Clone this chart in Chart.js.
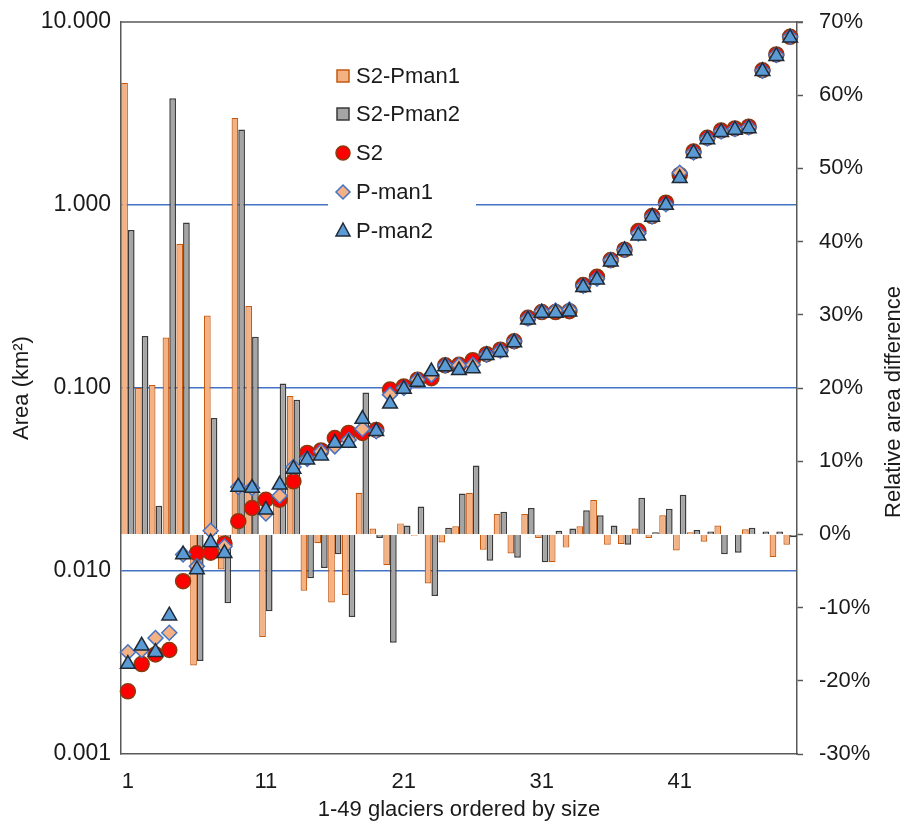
<!DOCTYPE html>
<html>
<head>
<meta charset="utf-8">
<script src="https://cdn.jsdelivr.net/npm/chart.js@4.4.1/dist/chart.umd.min.js"></script>
<style>
  body { margin: 0; background: #fff; }
  #wrap { width: 906px; height: 827px; }
</style>
</head>
<body>
<div id="wrap"><canvas id="lienzo" width="906" height="827"></canvas></div>
<script>
// glaciers 1-49, ordered by size
const glaciers = ['1','2','3','4','5','6','7','8','9','10','11','12','13','14','15','16','17','18','19','20',
    '21','22','23','24','25','26','27','28','29','30','31','32','33','34','35','36','37','38','39','40',
    '41','42','43','44','45','46','47','48','49']
const xTicks = ['1','11','21','31','41']
const areaTicks = [0.001, 0.01, 0.1, 1, 10]

// relative area difference (%)
const s2Pman1 = [61.7, 20.0, 20.4, 26.9, 39.7, -17.9, 29.9, -4.8, 56.9, 31.2,
    -14.0, 5.0, 18.9, -7.7, -1.2, -9.3, -8.3, 5.7, 0.8, -4.2,
    1.5, -0.2, -6.7, -1.1, 1.1, 5.7, -2.1, 2.8, -2.6, 2.8,
    -0.5, -3.8, -1.8, 1.1, 4.7, -1.4, -1.3, 0.8, -0.5, 2.6,
    -2.2, 0.3, -1.0, 1.2, 0.1, 0.7, 0.1, -3.1, -1.4]
const s2Pman2 = [41.6, 27.1, 3.9, 59.6, 42.6, -17.3, 15.9, -9.4, 55.3, 27.0,
    -10.5, 20.6, 18.4, -6.0, -4.6, -2.7, -11.3, 19.4, -0.5, -14.8,
    1.2, 3.8, -8.4, 0.9, 5.6, 9.4, -3.6, 3.1, -3.2, 3.6,
    -3.8, 0.5, 0.8, 3.3, 2.6, 1.2, -1.4, 5.0, 0.3, 3.5,
    5.4, 0.6, 0.4, -2.7, -2.5, 0.9, 0.4, 0.4, -0.4]

// area (km2)
const areaS2 = [0.0022, 0.0031, 0.0035, 0.0037, 0.0088, 0.0125, 0.0126, 0.0141, 0.0187, 0.0221,
    0.0245, 0.0245, 0.0309, 0.0442, 0.0456, 0.0533, 0.0568, 0.0568, 0.059, 0.098,
    0.102, 0.111, 0.113, 0.133, 0.134, 0.142, 0.153, 0.162, 0.180, 0.242,
    0.260, 0.260, 0.263, 0.365, 0.405, 0.50, 0.57, 0.72, 0.87, 1.03,
    1.46, 1.96, 2.33, 2.55, 2.62, 2.68, 5.45, 6.65, 8.3]
const areaPman1 = [0.0036, 0.0037, 0.0043, 0.0046, 0.0123, 0.0106, 0.0166, 0.0136, 0.0288, 0.0284,
    0.0206, 0.0258, 0.037, 0.041, 0.045, 0.048, 0.052, 0.0597, 0.058, 0.092,
    0.100, 0.111, 0.118, 0.133, 0.133, 0.134, 0.152, 0.160, 0.180, 0.240,
    0.262, 0.265, 0.268, 0.362, 0.396, 0.50, 0.57, 0.70, 0.865, 1.01,
    1.50, 1.94, 2.31, 2.52, 2.60, 2.66, 5.42, 6.6, 8.3]
const areaPman2 = [0.0031, 0.0039, 0.0036, 0.0057, 0.0123, 0.0102, 0.0143, 0.0125, 0.0288, 0.0284,
    0.0216, 0.0296, 0.0361, 0.0406, 0.0427, 0.050, 0.050, 0.0677, 0.058, 0.082,
    0.0987, 0.108, 0.123, 0.131, 0.125, 0.128, 0.151, 0.157, 0.177, 0.236,
    0.257, 0.257, 0.261, 0.355, 0.390, 0.49, 0.565, 0.68, 0.86, 1.00,
    1.40, 1.92, 2.28, 2.50, 2.57, 2.62, 5.38, 6.5, 8.2]

const azul = '#4472C4'
const ejes = '#595959'
const texto = '#1a1a1a'
const fuente = 'Liberation Sans, Arial, sans-serif'

const leyenda = [
    {label: 'S2-Pman1', tipo: 'rect', fill: '#F4B183', stroke: '#C55A11'},
    {label: 'S2-Pman2', tipo: 'rect', fill: '#A5A5A5', stroke: '#3A3A3A'},
    {label: 'S2', tipo: 'circle', fill: '#FF0000', stroke: '#8B3A0F'},
    {label: 'P-man1', tipo: 'diamond', fill: '#F4B183', stroke: azul},
    {label: 'P-man2', tipo: 'triangle', fill: '#5B9BD5', stroke: '#1F2A36'},
]

function marcador(ctx, tipo, x, y, fill, stroke) {
    ctx.save()
    ctx.fillStyle = fill
    ctx.strokeStyle = stroke
    ctx.lineWidth = 1.5
    ctx.beginPath()
    if (tipo === 'rect') {
        ctx.rect(x - 6, y - 6, 12, 12)
    } else if (tipo === 'circle') {
        ctx.arc(x, y, 7, 0, Math.PI * 2)
    } else if (tipo === 'diamond') {
        ctx.moveTo(x, y - 7); ctx.lineTo(x + 7, y); ctx.lineTo(x, y + 7); ctx.lineTo(x - 7, y); ctx.closePath()
    } else {
        ctx.moveTo(x, y - 8); ctx.lineTo(x + 7, y + 5); ctx.lineTo(x - 7, y + 5); ctx.closePath()
    }
    ctx.fill()
    ctx.stroke()
    ctx.restore()
}

const extras = {
    id: 'extras',
    beforeDatasetsDraw(chart) {
        const {ctx, chartArea} = chart
        ctx.save()
        ctx.strokeStyle = ejes
        ctx.lineWidth = 1.5
        ctx.beginPath()
        ctx.moveTo(chartArea.left, chartArea.top)
        ctx.lineTo(chartArea.right + 6, chartArea.top)
        ctx.stroke()
        ctx.restore()
    },
    afterDraw(chart) {
        const {ctx, chartArea} = chart
        ctx.save()
        // legend box over the plot
        ctx.fillStyle = '#fff'
        ctx.fillRect(328, 56, 148, 194)
        ctx.font = '22px ' + fuente
        ctx.textBaseline = 'middle'
        ctx.textAlign = 'left'
        let ys = [76, 114, 153, 192, 231]
        leyenda.forEach((item, i) => {
            marcador(ctx, item.tipo, 343, ys[i], item.fill, item.stroke)
            ctx.fillStyle = texto
            ctx.fillText(item.label, 356, ys[i] + 1)
        })
        // axis titles
        let midY = (chartArea.top + chartArea.bottom) / 2
        ctx.fillStyle = texto
        ctx.textAlign = 'center'
        ctx.save()
        ctx.translate(22, midY)
        ctx.rotate(-Math.PI / 2)
        ctx.fillText('Area (km²)', 0, 0)
        ctx.restore()
        ctx.save()
        ctx.translate(894, midY + 14)
        ctx.rotate(-Math.PI / 2)
        ctx.fillText('Relative area difference', 0, 0)
        ctx.restore()
        ctx.fillText('1-49 glaciers ordered by size', (chartArea.left + chartArea.right) / 2, 810)
        ctx.restore()
    }
}

document.addEventListener('DOMContentLoaded', () => {
    Chart.defaults.font.family = fuente
    Chart.defaults.font.size = 22
    Chart.defaults.color = texto

    const ctx = document.getElementById('lienzo')
    new Chart(ctx, {
        type: 'bar',
        data: {
            labels: glaciers,
            datasets: [
                {type: 'line', label: 'P-man2', data: areaPman2, yAxisID: 'y', showLine: false, order: 1,
                    pointStyle: 'triangle', pointRadius: 8.5, pointBackgroundColor: '#5B9BD5',
                    pointBorderColor: '#1F2A36', pointBorderWidth: 1.5},
                {type: 'line', label: 'P-man1', data: areaPman1, yAxisID: 'y', showLine: false, order: 2,
                    pointStyle: 'rectRot', pointRadius: 7.5, pointBackgroundColor: '#F4B183',
                    pointBorderColor: azul, pointBorderWidth: 1.5},
                {type: 'line', label: 'S2', data: areaS2, yAxisID: 'y', showLine: false, order: 3,
                    pointStyle: 'circle', pointRadius: 7.5, pointBackgroundColor: '#FF0000',
                    pointBorderColor: '#8B3A0F', pointBorderWidth: 1.5},
                {label: 'S2-Pman1', data: s2Pman1, yAxisID: 'y2', order: 10,
                    backgroundColor: '#F4B183', borderColor: '#C55A11', borderWidth: 1.2,
                    categoryPercentage: 0.97, barPercentage: 1.0},
                {label: 'S2-Pman2', data: s2Pman2, yAxisID: 'y2', order: 10,
                    backgroundColor: '#A5A5A5', borderColor: '#3A3A3A', borderWidth: 1.5,
                    categoryPercentage: 0.97, barPercentage: 1.0},
            ]
        },
        options: {
            responsive: false,
            animation: false,
            layout: {padding: {top: 22, left: 0, right: 0, bottom: 0}},
            plugins: {legend: {display: false}, tooltip: {enabled: false}},
            scales: {
                x: {
                    grid: {display: false},
                    border: {display: true, color: ejes, width: 1.5},
                    ticks: {
                        autoSkip: false, maxRotation: 0, minRotation: 0, padding: 7,
                        callback: function(val, i) {
                            let lab = glaciers[i]
                            return xTicks.includes(lab) ? lab : ''
                        }
                    },
                    afterFit: s => { s.height = 73; s.paddingLeft = 0; s.paddingRight = 0 }
                },
                y: {
                    type: 'logarithmic',
                    position: 'left',
                    min: 0.001,
                    max: 10,
                    afterBuildTicks: s => { s.ticks = areaTicks.map(v => ({value: v})) },
                    ticks: {padding: 10, font: {size: 23}, callback: v => Number(v).toFixed(3)},
                    grid: {
                        drawTicks: false,
                        lineWidth: 1.5,
                        color: c => (c.tick && (c.tick.value === 0.01 || c.tick.value === 0.1 || c.tick.value === 1)) ? azul : 'rgba(0,0,0,0)'
                    },
                    border: {display: true, color: ejes, width: 1.5},
                    afterFit: s => { s.width = 121; s.paddingTop = 0; s.paddingBottom = 0 }
                },
                y2: {
                    type: 'linear',
                    position: 'right',
                    min: -30,
                    max: 70,
                    ticks: {stepSize: 10, padding: 16, callback: v => v + '%'},
                    grid: {drawOnChartArea: false, drawTicks: true, tickLength: 6, tickColor: ejes, tickWidth: 1.5},
                    border: {display: true, color: ejes, width: 1.5},
                    afterFit: s => { s.width = 109; s.paddingTop = 0; s.paddingBottom = 0 }
                }
            }
        },
        plugins: [extras]
    })
})
</script>
</body>
</html>
